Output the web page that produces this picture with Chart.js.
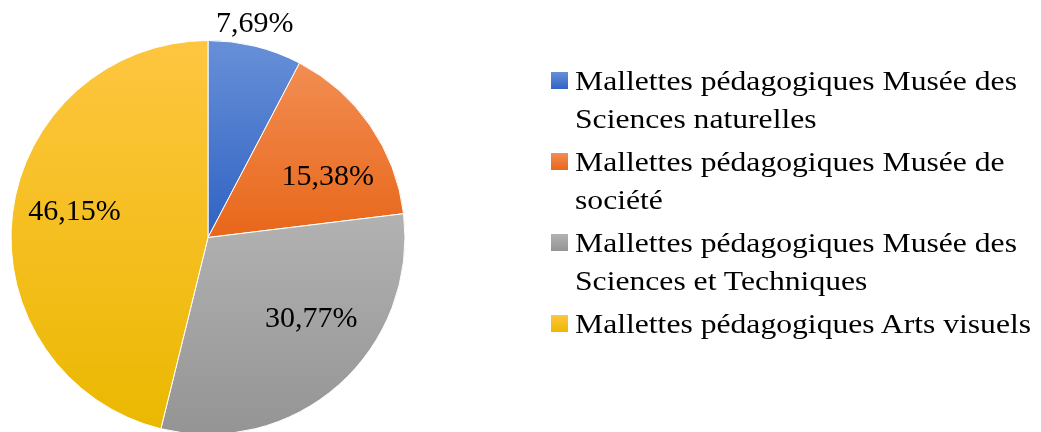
<!DOCTYPE html>
<html>
<head>
<meta charset="utf-8">
<script src="https://cdn.jsdelivr.net/npm/chart.js@4.4.1/dist/chart.umd.min.js"></script>
<style>
    html, body { margin: 0; padding: 0; background: #fff; overflow: hidden; }
    #page { position: relative; width: 1041px; height: 432px; overflow: hidden; }
    #wrap { position: absolute; left: 0; top: 0; width: 1041px; height: 436px; }
    #legend { position: absolute; left: 551px; top: 62px; font-family: "Liberation Serif", "Times New Roman", serif; font-size: 28px; line-height: 38px; color: #000; }
    .item { position: relative; padding-left: 24px; margin-bottom: 5px; white-space: nowrap; }
    .txt { display: inline-block; transform: scaleX(1.13); transform-origin: 0 0; }
    .box { position: absolute; left: 0; top: 10px; width: 17px; height: 17px; }
</style>
</head>
<body>
<div id="page">
    <div id="wrap"><canvas id="pieChart"></canvas></div>
    <div id="legend"></div>
</div>
<script>
// categories (split where the legend wraps)
const categories = [
    ['Mallettes pédagogiques Musée des', 'Sciences naturelles'],
    ['Mallettes pédagogiques Musée de', 'société'],
    ['Mallettes pédagogiques Musée des', 'Sciences et Techniques'],
    ['Mallettes pédagogiques Arts visuels']
];
// share of each category, in percent
const shares = [7.69, 15.38, 30.77, 46.15];

const topColors = ['#6890d8', '#f28d52', '#b2b2b2', '#fec640'];
const bottomColors = ['#2f62c2', '#e8671a', '#949494', '#ebb800'];

// label placement relative to each slice: radius factor and angle nudge (deg)
const labelPlace = [
    { r: 1.11, da: -1.5 },
    { r: 0.68, da: 8 },
    { r: 0.67, da: -10 },
    { r: 0.69, da: 4 }
];

function fmt(v) {
    return v.toFixed(2).replace('.', ',') + '%';
}

/**
 * Vertical extent of a pie slice
 */
function sliceBounds(arc) {
    const ys = [arc.y];
    const a0 = arc.startAngle, a1 = arc.endAngle;
    ys.push(arc.y + Math.sin(a0) * arc.outerRadius);
    ys.push(arc.y + Math.sin(a1) * arc.outerRadius);
    [-Math.PI / 2, Math.PI / 2, 3 * Math.PI / 2].forEach(a => {
        if (a > a0 && a < a1) ys.push(arc.y + Math.sin(a) * arc.outerRadius);
    });
    return [Math.min(...ys), Math.max(...ys)];
}

const gradientFill = {
    id: 'gradientFill',
    beforeDatasetsDraw(chart) {
        const ctx = chart.ctx;
        chart.getDatasetMeta(0).data.forEach((arc, i) => {
            const [y0, y1] = sliceBounds(arc);
            const g = ctx.createLinearGradient(0, y0, 0, y1);
            g.addColorStop(0, topColors[i]);
            g.addColorStop(1, bottomColors[i]);
            arc.options.backgroundColor = g;
        });
    }
};

const sliceLabels = {
    id: 'sliceLabels',
    afterDatasetsDraw(chart) {
        const ctx = chart.ctx;
        ctx.save();
        ctx.font = '30px "Liberation Serif", "Times New Roman", serif';
        ctx.fillStyle = '#000';
        ctx.textAlign = 'center';
        ctx.textBaseline = 'middle';
        chart.getDatasetMeta(0).data.forEach((arc, i) => {
            const p = labelPlace[i];
            const mid = (arc.startAngle + arc.endAngle) / 2 + p.da * Math.PI / 180;
            const r = arc.outerRadius * p.r;
            ctx.fillText(fmt(shares[i]), arc.x + Math.cos(mid) * r, arc.y + Math.sin(mid) * r);
        });
        ctx.restore();
    }
};

const ctx = document.getElementById('pieChart').getContext('2d');
const chart = new Chart(ctx, {
    type: 'pie',
    data: {
        labels: categories,
        datasets: [{
            data: shares,
            backgroundColor: bottomColors,
            borderColor: '#ffffff',
            borderWidth: 1
        }]
    },
    options: {
        responsive: true,
        maintainAspectRatio: false,
        animation: false,
        layout: { padding: { left: 10, right: 635, top: 40, bottom: 1 } },
        plugins: {
            legend: { display: false },
            tooltip: { enabled: false }
        }
    },
    plugins: [gradientFill, sliceLabels]
});

// legend built from the chart's own labels
const legend = document.getElementById('legend');
chart.data.labels.forEach((lines, i) => {
    const item = document.createElement('div');
    item.className = 'item';
    const box = document.createElement('span');
    box.className = 'box';
    box.style.background = 'linear-gradient(' + topColors[i] + ', ' + bottomColors[i] + ')';
    item.appendChild(box);
    const txt = document.createElement('span');
    txt.className = 'txt';
    lines.forEach((t, j) => {
        if (j > 0) txt.appendChild(document.createElement('br'));
        txt.appendChild(document.createTextNode(t));
    });
    item.appendChild(txt);
    legend.appendChild(item);
});
</script>
</body>
</html>
